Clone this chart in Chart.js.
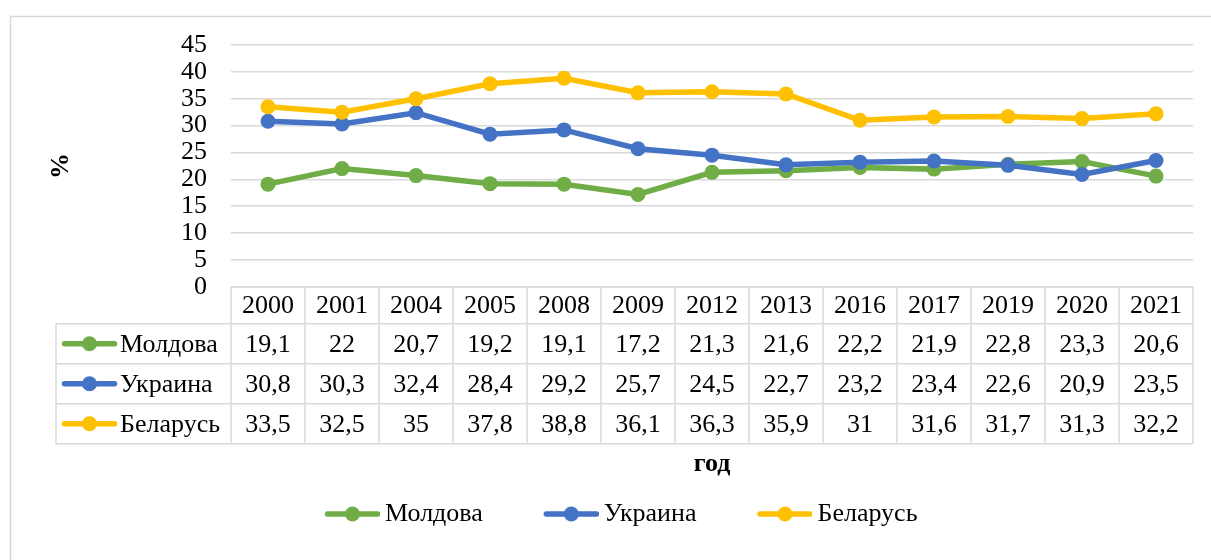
<!DOCTYPE html>
<html>
<head>
<meta charset="utf-8">
<script src="https://cdn.jsdelivr.net/npm/chart.js@4"></script>
<style>
  html, body { margin: 0; padding: 0; background: #fff; }
</style>
</head>
<body>
<canvas id="chart" width="1211" height="560"></canvas>
<script>
// --- data ---
const years = ['2000', '2001', '2004', '2005', '2008', '2009', '2012', '2013', '2016', '2017', '2019', '2020', '2021'];
const moldova = [19.1, 22, 20.7, 19.2, 19.1, 17.2, 21.3, 21.6, 22.2, 21.9, 22.8, 23.3, 20.6];
const ukraine = [30.8, 30.3, 32.4, 28.4, 29.2, 25.7, 24.5, 22.7, 23.2, 23.4, 22.6, 20.9, 23.5];
const belarus = [33.5, 32.5, 35, 37.8, 38.8, 36.1, 36.3, 35.9, 31, 31.6, 31.7, 31.3, 32.2];
const seriesNames = ['Молдова', 'Украина', 'Беларусь'];
const seriesColors = ['#70AD47', '#4472C4', '#FFC000'];
const yTicks = [0, 45, 5]; // min, max, step

const FONT = '"Liberation Serif", "Times New Roman", serif';
const FS = 26;
const gridColor = '#d9d9d9';
const rowHeights = [37, 40, 40, 40];
const tableLeft = 56;

// small line+marker key, like Excel's legend key
function drawKey(ctx, x1, x2, y, color) {
  ctx.save();
  ctx.strokeStyle = color;
  ctx.lineWidth = 5.5;
  ctx.lineCap = 'round';
  ctx.beginPath();
  ctx.moveTo(x1 + 2.5, y);
  ctx.lineTo(x2 - 2.5, y);
  ctx.stroke();
  ctx.fillStyle = color;
  ctx.beginPath();
  ctx.arc((x1 + x2) / 2, y, 7.5, 0, Math.PI * 2);
  ctx.fill();
  ctx.restore();
}

// legend images: key sits on the right part of a wider transparent canvas
const legendBoxW = 96;
function makeLegendKey(color) {
  const c = document.createElement('canvas');
  c.width = legendBoxW + 2 * (FS / 2 - 5);
  c.height = 18;
  drawKey(c.getContext('2d'), c.width - 55, c.width, 9, color);
  return c;
}
const legendKeys = seriesColors.map(makeLegendKey);

const fmt = v => String(v).replace('.', ',');

const frame = {
  id: 'frame',
  beforeDraw(chart) {
    const ctx = chart.ctx;
    ctx.save();
    ctx.strokeStyle = gridColor;
    ctx.lineWidth = 1.5;
    ctx.strokeRect(10.5, 16.5, 1400, 700);
    ctx.restore();
  },
  afterLayout(chart) {
    // Excel placed the legend left of centre
    const lg = chart.legend;
    const p = lg.options.labels.padding;
    const x0 = (lg.left + p + lg.right - lg.lineWidths[0]) / 2;
    const keyOffset = legendBoxW + (FS / 2 - 5) - 55;
    const dx = (325 - keyOffset) - x0;
    lg.left += dx;
    lg.right += dx;
  }
};

const dataTable = {
  id: 'dataTable',
  afterDraw(chart) {
    const {ctx, chartArea: a, scales: {x}} = chart;
    const colW = (a.right - a.left) / years.length;
    const rows = [a.bottom];
    rowHeights.forEach(h => rows.push(rows[rows.length - 1] + h));
    const last = rows[rows.length - 1];

    ctx.save();
    ctx.strokeStyle = gridColor;
    ctx.lineWidth = 1.5;
    ctx.beginPath();
    ctx.moveTo(a.left, rows[0]);
    ctx.lineTo(a.right, rows[0]);
    for (let r = 1; r < rows.length; r++) {
      ctx.moveTo(tableLeft, rows[r]);
      ctx.lineTo(a.right, rows[r]);
    }
    ctx.moveTo(tableLeft, rows[1]);
    ctx.lineTo(tableLeft, last);
    for (let c = 0; c <= years.length; c++) {
      const xx = a.left + c * colW;
      ctx.moveTo(xx, rows[0]);
      ctx.lineTo(xx, last);
    }
    ctx.stroke();

    ctx.font = FS + 'px ' + FONT;
    ctx.fillStyle = '#000';
    ctx.textAlign = 'center';
    ctx.textBaseline = 'middle';
    years.forEach((y, i) => ctx.fillText(y, x.getPixelForValue(i), (rows[0] + rows[1]) / 2 + 1));

    chart.data.datasets.forEach((ds, r) => {
      const cy = (rows[r + 1] + rows[r + 2]) / 2 + 1;
      ds.data.forEach((v, i) => ctx.fillText(fmt(v), x.getPixelForValue(i), cy));
      drawKey(ctx, 62, 117, cy - 1, ds.borderColor);
      ctx.textAlign = 'left';
      ctx.fillText(ds.label, 120, cy);
      ctx.textAlign = 'center';
    });
    ctx.restore();
  }
};

function line(label, data, color, order) {
  return {
    label, data, order,
    borderColor: color,
    backgroundColor: color,
    borderWidth: 5.5,
    pointRadius: 7.5,
    pointHoverRadius: 7.5,
    pointBorderWidth: 0,
    pointBackgroundColor: color,
    tension: 0
  };
}

Chart.defaults.font.family = FONT;
Chart.defaults.font.size = FS;
Chart.defaults.color = '#000';

new Chart(document.getElementById('chart'), {
  type: 'line',
  data: {
    labels: years,
    datasets: [
      line(seriesNames[0], moldova, seriesColors[0], 3),
      line(seriesNames[1], ukraine, seriesColors[1], 2),
      line(seriesNames[2], belarus, seriesColors[2], 1)
    ]
  },
  options: {
    responsive: false,
    animation: false,
    devicePixelRatio: 1,
    layout: { padding: { left: 20, right: 18, top: 45, bottom: 23 } },
    scales: {
      x: {
        offset: true,
        grid: { display: false, drawTicks: false },
        border: { display: false },
        ticks: { display: false },
        title: {
          display: true,
          text: 'год',
          font: { size: FS, weight: 'bold' },
          padding: { top: 162, bottom: 9 }
        }
      },
      y: {
        min: yTicks[0],
        max: yTicks[1],
        grid: { color: gridColor, lineWidth: 1.5, drawTicks: false },
        border: { display: false },
        ticks: { stepSize: yTicks[2], padding: 24, autoSkip: false },
        title: {
          display: true,
          text: '%',
          font: { size: FS, weight: 'bold' },
          padding: { top: 26, bottom: 0 }
        },
        afterFit(scale) { scale.width = 211; }
      }
    },
    plugins: {
      tooltip: { enabled: false },
      legend: {
        position: 'bottom',
        labels: {
          usePointStyle: true,
          pointStyleWidth: legendBoxW,
          padding: 12,
          color: '#000',
          font: { size: FS },
          sort: (a, b) => a.datasetIndex - b.datasetIndex,
          generateLabels(chart) {
            const items = Chart.defaults.plugins.legend.labels.generateLabels(chart);
            items.forEach(it => { it.pointStyle = legendKeys[it.datasetIndex]; });
            return items;
          }
        }
      }
    }
  },
  plugins: [frame, dataTable]
});
</script>
</body>
</html>
